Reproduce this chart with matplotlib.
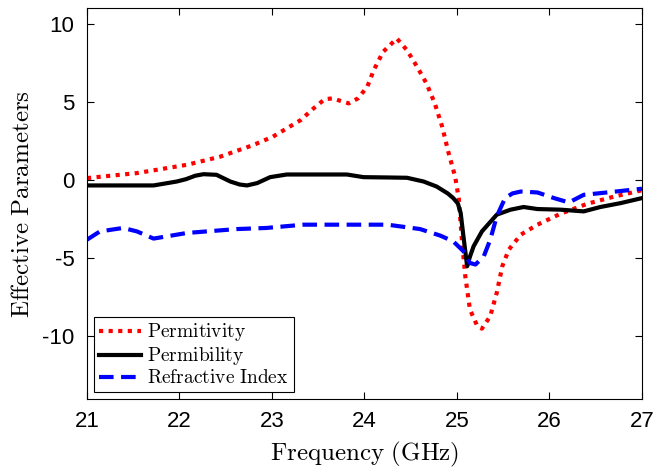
import numpy as np
import matplotlib
matplotlib.use('Agg')
import matplotlib.pyplot as plt

plt.rcParams['mathtext.fontset'] = 'cm'
plt.rcParams['font.family'] = 'Liberation Sans'
plt.rcParams['axes.unicode_minus'] = False

# permittivity (red dotted)
f_eps = [21.0, 21.54, 22.08, 22.44, 22.8, 23.01, 23.31, 23.45, 23.57, 23.66, 23.75,
         23.83, 23.93, 24.03, 24.1, 24.2, 24.35, 24.46, 24.57, 24.67, 24.76, 24.84,
         24.91, 24.98, 25.02, 25.05, 25.09, 25.14, 25.22, 25.27, 25.36, 25.43, 25.49,
         25.56, 25.69, 25.87, 26.12, 26.41, 26.7, 27.0]
eps = [0.13, 0.45, 0.98, 1.5, 2.25, 2.78, 3.84, 4.59, 5.18, 5.23, 5.05,
       4.91, 5.23, 5.97, 7.03, 8.2, 9.06, 8.31, 7.24, 6.19, 4.91, 3.42,
       1.72, 0.23, -1.2, -3.6, -6.15, -8.27, -9.34, -9.5, -8.7, -7.21, -5.51,
       -4.45, -3.49, -2.85, -2.15, -1.51, -1.05, -0.65]

# permeability (black solid)
f_mu = [21.0, 21.72, 21.97, 22.07, 22.17, 22.26, 22.4, 22.55, 22.65, 22.73, 22.84,
        22.98, 23.16, 23.81, 23.99, 24.25, 24.46, 24.64, 24.78, 24.9, 24.96, 25.01,
        25.04, 25.07, 25.11, 25.14, 25.18, 25.27, 25.43, 25.58, 25.72, 25.87, 26.12,
        26.37, 26.55, 26.77, 27.0]
mu = [-0.34, -0.34, -0.09, 0.06, 0.28, 0.38, 0.34, -0.09, -0.28, -0.34, -0.19,
      0.19, 0.36, 0.36, 0.19, 0.17, 0.15, -0.09, -0.41, -0.85, -1.15, -1.5,
      -2.1, -3.6, -5.51, -4.9, -4.23, -3.28, -2.21, -1.89, -1.72, -1.85, -1.89,
      -2.0, -1.72, -1.47, -1.15]

# refractive index (blue dashed)
f_n = [21.0, 21.14, 21.39, 21.54, 21.72, 21.86, 22.08, 22.62, 22.94, 23.34, 24.25,
       24.6, 24.82, 24.96, 25.07, 25.14, 25.2, 25.29, 25.36, 25.43, 25.52, 25.6,
       25.69, 25.87, 26.05, 26.21, 26.37, 26.62, 27.0]
n = [-3.81, -3.28, -3.06, -3.28, -3.74, -3.6, -3.38, -3.13, -3.06, -2.85, -2.85,
     -3.13, -3.55, -3.92, -4.55, -5.3, -5.4, -4.87, -3.81, -2.32, -1.15, -0.85,
     -0.73, -0.79, -1.15, -1.43, -0.94, -0.79, -0.55]

fig = plt.figure(figsize=(6.56, 4.72), dpi=100)
ax = fig.add_axes([0.1326, 0.1547, 0.846, 0.828])

ax.plot(f_eps, eps, color='red', lw=3, ls=(0, (1, 1.3)), label=r'$\mathrm{Permitivity}$')
ax.plot(f_mu, mu, color='black', lw=3, label=r'$\mathrm{Permibility}$')
ax.plot(f_n, n, color='blue', lw=3, ls=(0, (3.5, 1.8)), label=r'$\mathrm{Refractive\ Index}$')

ax.set_xlim(21, 27)
ax.set_ylim(-14, 11)
ax.set_xticks(range(21, 28))
ax.set_yticks([-10, -5, 0, 5, 10])
ax.tick_params(direction='in', top=True, right=True, labelsize=16, length=5, width=0.8, pad=9)
for s in ax.spines.values():
    s.set_linewidth(0.8)

ax.set_xlabel(r'$\mathrm{Frequency\ (GHz)}$', fontsize=18, labelpad=5)
ax.set_ylabel(r'$\mathrm{Effective\ Parameters}$', fontsize=18, labelpad=6)

leg = ax.legend(loc='lower left', fontsize=14, handlelength=2.2, handletextpad=0.3,
                borderpad=0.25, labelspacing=0.1, fancybox=False, edgecolor='black',
                framealpha=1, borderaxespad=0.35)
leg.get_frame().set_linewidth(0.8)

fig.savefig('out.png', dpi=100)
